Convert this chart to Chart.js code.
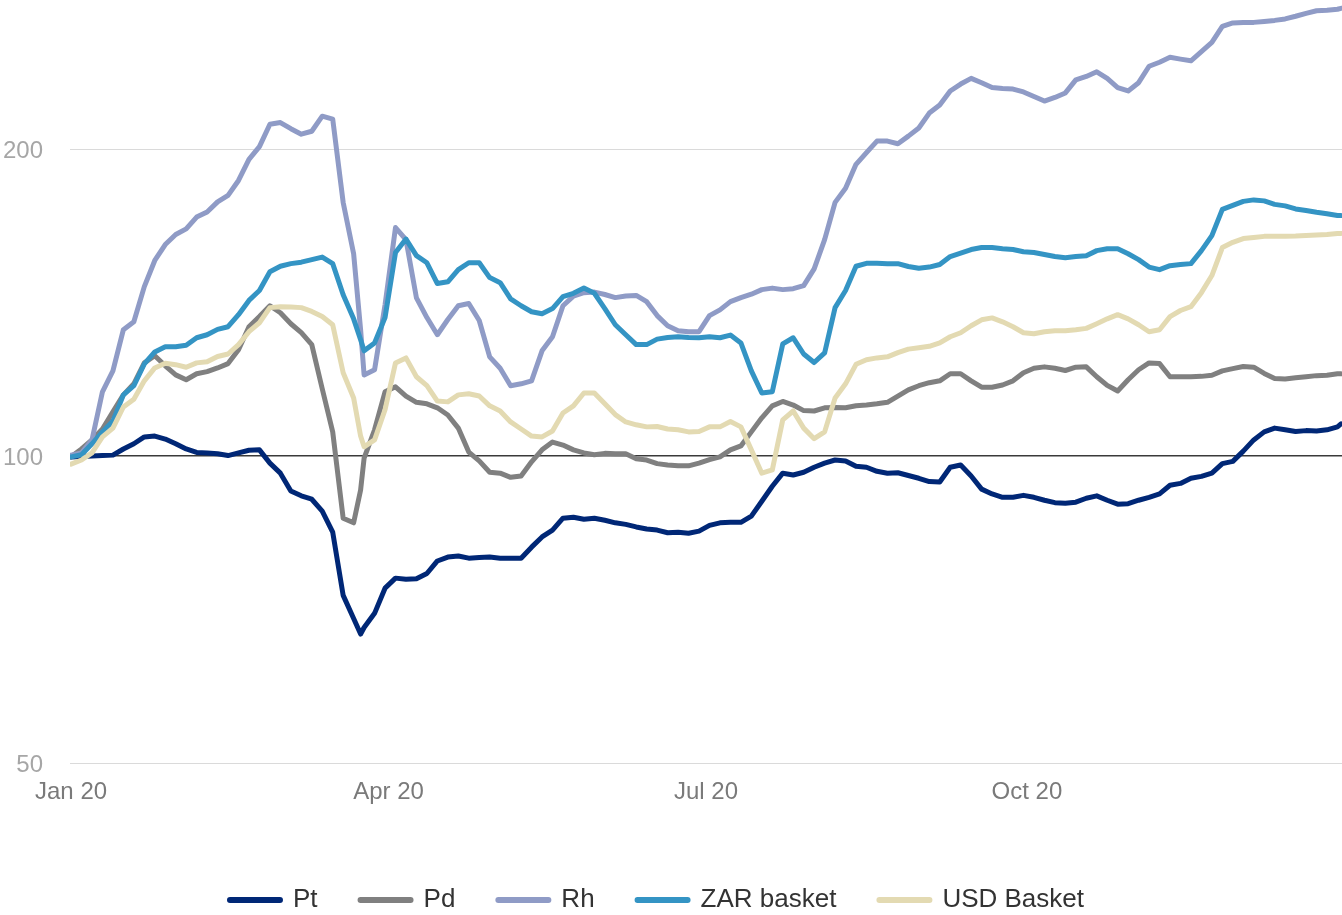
<!DOCTYPE html>
<html>
<head>
<meta charset="utf-8">
<script src="https://cdn.jsdelivr.net/npm/chart.js@4/dist/chart.umd.min.js"></script>
<style>
html,body{margin:0;padding:0;background:#ffffff;}
#wrap{width:1342px;height:915px;position:relative;overflow:hidden;}
canvas{display:block;}
</style>
</head>
<body>
<div id="wrap"><canvas id="c" width="1342" height="915"></canvas></div>
<script>
// Day of year 2020 (0 = 1 Jan)
const days = [0,3,6,9,12,15,18,21,24,27,30,33,36,39,42,45,48,51,54,57,60,63,66,69,72,75,78,81,83,
  84,87,90,93,96,99,102,105,108,111,114,117,120,123,126,129,132,135,138,141,144,147,150,153,156,159,
  162,165,168,171,174,177,180,183,186,189,192,195,198,201,204,207,210,213,216,219,222,225,228,231,234,
  237,240,243,246,249,252,255,258,261,264,267,270,273,276,279,282,285,288,291,294,297,300,303,306,309,
  312,315,318,321,324,327,330,333,336,339,342,345,348,351,354,357,360,363,364];

const tickDays = [0, 91, 182, 274];
const tickLabels = ['Jan 20', 'Apr 20', 'Jul 20', 'Oct 20'];
const yTicks = [50, 100, 200];

const pt = [
  99.8, 99.9, 100.0, 100.1, 100.2, 101.6, 102.8, 104.4, 104.6, 103.9,
  102.8, 101.6, 100.8, 100.7, 100.5, 100.1, 100.7, 101.3, 101.4, 98.4,
  96.2, 92.4, 91.4, 90.7, 88.3, 84.2, 73.0, 69.3, 66.9,
  67.9, 70.1, 74.2, 75.9, 75.7, 75.8, 76.7, 78.9, 79.6, 79.8,
  79.4, 79.5, 79.6, 79.4, 79.4, 79.4, 81.4, 83.3, 84.6, 86.9,
  87.1, 86.7, 86.9, 86.5, 86.0, 85.7, 85.2, 84.8, 84.6, 84.1,
  84.2, 84.0, 84.4, 85.5, 86.0, 86.1, 86.1, 87.3, 90.3, 93.4,
  96.2, 95.8, 96.4, 97.5, 98.4, 99.1, 98.9, 97.7, 97.5, 96.6,
  96.2, 96.3, 95.7, 95.1, 94.4, 94.3, 97.5, 98.0, 95.6, 92.8,
  91.8, 91.1, 91.1, 91.5, 91.1, 90.5, 90.0, 89.9, 90.1, 90.9,
  91.4, 90.5, 89.7, 89.8, 90.5, 91.1, 91.8, 93.6, 94.0, 95.1,
  95.5, 96.2, 98.3, 98.8, 101.1, 103.7, 105.6, 106.5, 106.1, 105.7,
  105.9, 105.8, 106.1, 106.8, 107.5];

const pd = [
  99.8, 101.6, 103.7, 106.3, 110.5, 114.8, 117.7, 123.4, 125.4, 122.6,
  120.1, 118.8, 120.4, 121.0, 122.0, 123.2, 127.1, 133.9, 137.0, 140.4,
  138.2, 134.8, 132.1, 128.6, 116.4, 105.6, 86.9, 86.0, 92.6,
  99.5, 106.1, 115.6, 116.9, 114.5, 112.9, 112.5, 111.5, 109.7, 106.5,
  100.9, 98.9, 96.4, 96.2, 95.3, 95.6, 98.7, 101.4, 103.2, 102.5,
  101.4, 100.7, 100.3, 100.6, 100.5, 100.5, 99.4, 99.1, 98.3, 98.0,
  97.8, 97.8, 98.4, 99.2, 99.8, 101.4, 102.3, 105.6, 109.0, 112.0,
  113.1, 112.2, 110.8, 110.7, 111.5, 111.6, 111.5, 112.0, 112.2, 112.5,
  112.9, 114.5, 116.1, 117.2, 118.0, 118.5, 120.4, 120.4, 118.5, 116.8,
  116.8, 117.4, 118.5, 120.7, 121.9, 122.3, 121.9, 121.3, 122.2, 122.3,
  119.6, 117.3, 115.8, 118.8, 121.5, 123.4, 123.2, 119.6, 119.6, 119.6,
  119.7, 120.0, 121.2, 121.8, 122.4, 122.2, 120.5, 119.1, 119.0, 119.3,
  119.6, 119.9, 120.0, 120.4, 120.4];

const rh = [
  100.2, 100.7, 103.7, 115.6, 121.2, 133.0, 135.4, 146.6, 155.5, 161.2,
  164.9, 167.0, 171.5, 173.5, 177.5, 180.1, 186.3, 195.4, 201.1, 211.5,
  212.3, 209.4, 206.8, 208.2, 215.4, 214.0, 177.3, 157.9, 133.0,
  120.1, 121.5, 140.7, 167.5, 163.0, 142.9, 136.7, 131.5, 136.1, 140.4,
  141.1, 135.8, 125.1, 121.9, 117.2, 117.7, 118.5, 126.8, 130.9, 140.4,
  143.5, 144.6, 144.8, 144.0, 143.0, 143.5, 143.7, 141.7, 137.3, 134.2,
  132.7, 132.4, 132.4, 137.3, 139.1, 141.7, 143.0, 144.1, 145.6, 146.1,
  145.6, 145.9, 146.9, 152.6, 163.0, 177.3, 183.0, 193.2, 198.4, 203.6,
  203.6, 202.4, 205.9, 209.7, 216.9, 220.9, 228.0, 231.6, 234.6, 232.3,
  229.8, 229.3, 229.0, 227.5, 225.2, 222.9, 224.7, 227.0, 233.8, 235.6,
  238.1, 234.6, 229.8, 228.0, 232.3, 241.1, 243.3, 246.0, 245.0, 244.1,
  249.2, 254.4, 263.8, 265.9, 266.2, 266.2, 266.8, 267.4, 268.3, 269.9,
  271.7, 273.3, 273.6, 274.2, 274.8];

const zar = [
  99.8, 100.3, 102.8, 105.6, 108.2, 114.8, 117.2, 123.1, 126.5, 128.0,
  128.0, 128.4, 130.6, 131.5, 133.1, 133.9, 137.6, 142.1, 145.3, 151.6,
  153.5, 154.4, 154.9, 155.8, 156.7, 154.4, 143.9, 136.3, 130.0,
  126.8, 129.1, 136.7, 158.3, 163.2, 157.2, 154.7, 147.6, 148.2, 152.3,
  154.7, 154.7, 149.6, 147.9, 142.6, 140.4, 138.5, 137.9, 139.5, 143.3,
  144.4, 146.1, 144.4, 139.5, 134.5, 131.5, 128.6, 128.6, 130.2, 130.7,
  130.9, 130.7, 130.6, 130.9, 130.6, 131.4, 129.1, 121.2, 115.3, 115.6,
  128.8, 130.6, 125.9, 123.5, 126.2, 139.8, 145.3, 153.5, 154.5, 154.5,
  154.4, 154.4, 153.4, 152.8, 153.2, 154.1, 156.9, 158.1, 159.4, 160.1,
  160.1, 159.7, 159.4, 158.6, 158.3, 157.6, 156.9, 156.5, 156.9, 157.2,
  159.0, 159.7, 159.7, 157.9, 155.8, 153.2, 152.3, 153.7, 154.1, 154.4,
  159.0, 164.5, 174.5, 176.1, 177.7, 178.3, 177.9, 176.5, 175.9, 174.7,
  174.1, 173.4, 172.8, 172.1, 172.1];

const usd = [
  98.2, 99.1, 100.7, 104.4, 106.5, 111.7, 113.7, 118.5, 122.0, 123.3,
  122.9, 122.2, 123.4, 123.7, 125.2, 125.9, 128.6, 132.4, 135.1, 139.8,
  140.1, 140.0, 139.8, 138.6, 137.0, 134.5, 120.7, 114.0, 104.6,
  102.1, 103.7, 111.0, 123.4, 124.8, 119.6, 117.2, 113.2, 113.0, 114.8,
  115.1, 114.5, 112.0, 110.7, 108.0, 106.3, 104.6, 104.4, 105.8, 110.2,
  112.0, 115.3, 115.3, 112.5, 109.8, 108.0, 107.3, 106.8, 106.9, 106.3,
  106.1, 105.6, 105.7, 106.8, 106.8, 108.1, 106.8, 101.4, 96.2, 96.9,
  108.5, 110.7, 106.5, 104.0, 105.6, 114.0, 117.7, 123.0, 124.3, 124.8,
  125.1, 126.3, 127.3, 127.7, 128.1, 129.1, 130.9, 132.1, 134.2, 136.0,
  136.6, 135.4, 133.9, 132.1, 131.8, 132.4, 132.7, 132.7, 133.0, 133.4,
  134.8, 136.3, 137.6, 136.3, 134.5, 132.4, 133.0, 137.0, 138.9, 140.1,
  144.6, 150.3, 160.1, 162.0, 163.4, 163.8, 164.2, 164.2, 164.2, 164.3,
  164.5, 164.7, 164.9, 165.3, 165.3];

const seriesNames = ['Pt', 'Pd', 'Rh', 'ZAR basket', 'USD Basket'];
const seriesColors = ['#002776', '#808080', '#8F9BC6', '#3494C4', '#E3DAB2'];
const seriesValues = [pt, pd, rh, zar, usd];

seriesValues.forEach((arr, k) => {
  if (arr.length !== days.length) {
    throw new Error(seriesNames[k] + ' has ' + arr.length + ' values, expected ' + days.length);
  }
});

Chart.defaults.font.family = '"Liberation Sans", Arial, Helvetica, sans-serif';

const legendNudge = {
  id: 'legendNudge',
  afterLayout(chart) {
    const l = chart.legend;
    if (!l) return;
    l.left -= 14;
    l.right -= 14;
  }
};

new Chart(document.getElementById('c'), {
  type: 'line',
  data: {
    datasets: seriesNames.map((name, k) => ({
      label: name,
      data: days.map((d, i) => ({ x: d, y: seriesValues[k][i] })),
      borderColor: seriesColors[k],
      backgroundColor: seriesColors[k],
      borderWidth: 5,
      pointRadius: 0,
      pointHoverRadius: 0,
      tension: 0,
      fill: false,
      borderJoinStyle: 'round',
      borderCapStyle: 'round',
      order: seriesNames.length - k
    }))
  },
  options: {
    responsive: false,
    maintainAspectRatio: false,
    animation: false,
    devicePixelRatio: 1,
    events: [],
    layout: { padding: { left: 0, right: 0, top: 0, bottom: -8 } },
    scales: {
      x: {
        type: 'linear',
        min: -0.3,
        max: 364.3,
        grid: { display: false, drawTicks: false },
        border: { display: false },
        afterBuildTicks: (s) => { s.ticks = tickDays.map(v => ({ value: v })); },
        afterFit: (s) => { s.height = 81; s.paddingLeft = 0; s.paddingRight = 0; },
        ticks: {
          autoSkip: false,
          maxRotation: 0,
          minRotation: 0,
          padding: 15,
          color: '#7a7a7a',
          font: { size: 24 },
          callback: (v, i) => tickLabels[i]
        }
      },
      y: {
        type: 'logarithmic',
        min: 50,
        max: 280,
        grid: {
          drawTicks: false,
          color: (c) => (c.tick && c.tick.value === 100) ? '#3a3a3a' : '#dadada',
          lineWidth: (c) => (c.tick && c.tick.value === 100) ? 1.5 : 1
        },
        border: { display: false },
        afterBuildTicks: (s) => { s.ticks = yTicks.map(v => ({ value: v })); },
        afterFit: (s) => { s.width = 70; s.paddingTop = 0; s.paddingBottom = 0; },
        ticks: {
          padding: 27,
          color: '#a6a6a6',
          font: { size: 24, lineHeight: 0.2 },
          callback: (v) => ['', String(v)]
        }
      }
    },
    plugins: {
      tooltip: { enabled: false },
      legend: {
        display: true,
        position: 'bottom',
        align: 'center',
        labels: {
          usePointStyle: true,
          pointStyle: 'line',
          pointStyleWidth: 50,
          padding: 43,
          color: '#333333',
          font: { size: 26 },
          generateLabels: (chart) => chart.data.datasets.map((ds, i) => ({
            text: ds.label,
            datasetIndex: i,
            strokeStyle: ds.borderColor,
            fillStyle: ds.borderColor,
            fontColor: '#333333',
            lineWidth: 6,
            lineCap: 'round',
            pointStyle: 'line',
            hidden: false
          }))
        }
      }
    }
  },
  plugins: [legendNudge]
});
</script>
</body>
</html>
